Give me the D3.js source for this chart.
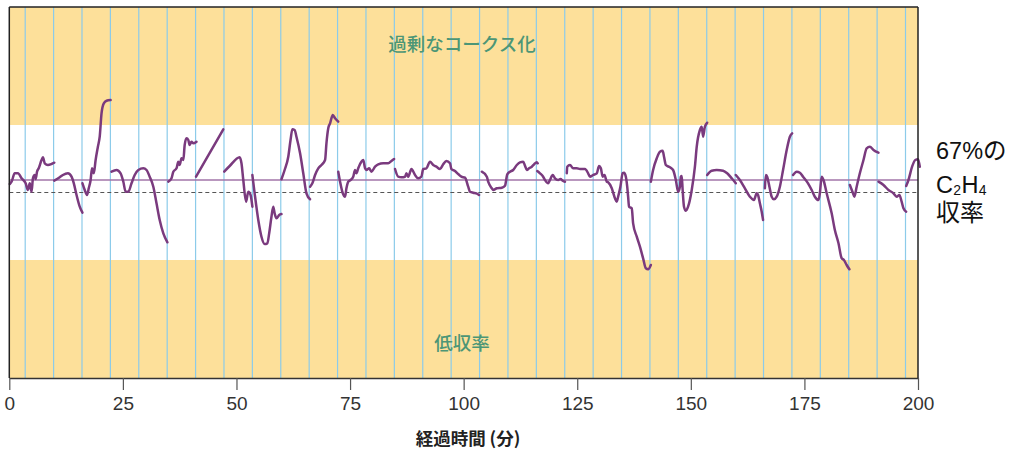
<!DOCTYPE html>
<html><head><meta charset="utf-8">
<script src="https://cdn.jsdelivr.net/npm/d3@7"></script>
<style>body{margin:0;background:#fff} svg{display:block}</style>
</head><body>
<svg id="c" width="1016" height="451"></svg>
<script>
// ---- data ----
const xTicks = [0, 25, 50, 75, 100, 125, 150, 175, 200];
const gridMinutes = [3.5, 9.75, 16, 22.25, 28.5, 34.75, 41, 47.25, 53.5, 59.75, 66, 72.25, 78.5, 84.75,
  91, 97.25, 103.5, 109.75, 116, 122.25, 128.5, 134.75, 141, 147.25, 153.5, 159.75, 166, 172.25,
  178.5, 184.75, 191, 197.25];
const targetYield = 67;
const dashedYield = 65.75;
const bandHigh = [72.5, 84.3];
const bandLow = [47.2, 59];
const bandLabels = ["過剰なコークス化", "低収率"];
const sideLabel = ["67%の", "C", "2", "H", "4", "収率"];
const xTitle = "経過時間 (分)";

const traceSegments = [
  [[0.1,66.6],[0.5,66.83],[1.2,67.67],[1.9,67.67],[2.7,67.17],[3.6,66.67],[4.1,66.0],[4.5,66.67],[4.9,65.83],[5.2,67.17],[5.6,67.5],[5.8,67.1],[6.1,67.83],[6.5,68.2],[7.1,69.0],[7.4,69.27],[7.8,68.67],[8.5,68.5],[9.3,68.6],[9.9,68.73]],
  [[9.9,66.93],[11.1,67.27],[11.8,67.5],[12.9,67.67],[13.7,67.33],[14.2,66.67],[14.8,65.5],[15.5,64.33],[16.1,63.73]],
  [[16.1,66.67],[16.6,66.0],[17.1,65.5],[17.5,66.2],[17.9,67.0],[18.2,68.17],[18.6,67.67],[19.0,69.0],[19.5,70.33],[19.9,71.33],[20.3,73.67],[20.8,74.67],[21.4,74.93],[22.3,75.0]],
  [[22.5,67.83],[23.6,68.0],[24.5,67.67],[25.1,66.83],[25.6,65.83],[26.2,65.83],[26.9,66.67],[27.6,67.5],[28.4,68.0],[29.5,68.17],[30.2,68.0],[30.9,67.33],[31.7,66.33],[32.4,64.67],[33.1,63.0],[33.9,61.67],[34.8,60.77]],
  [[35.0,66.83],[35.7,67.17],[36.1,67.83],[36.8,68.17],[37.2,68.83],[37.5,68.5],[37.9,69.17],[38.3,69.0],[38.6,70.5],[39.0,71.17],[39.4,71.0],[39.7,70.5],[40.1,70.83],[40.5,70.67],[41.2,70.83]],
  [[41.1,67.33],[47.1,72.07]],
  [[47.3,67.83],[48.5,68.4],[50.7,69.27],[51.1,68.67],[51.5,67.0],[52.1,64.83],[52.6,65.83],[53.1,65.5],[53.5,64.33]],
  [[53.5,67.5],[54.0,65.67],[54.8,63.0],[55.5,61.33],[56.2,60.6],[56.8,60.67],[57.2,61.67],[57.7,63.33],[58.1,64.33],[58.4,63.67],[58.8,63.17],[59.4,63.5],[59.9,63.6]],
  [[59.9,67.07],[60.6,68.0],[61.4,69.33],[61.9,71.0],[62.3,72.07],[62.8,72.0],[63.2,71.33],[64.0,69.67],[64.7,67.67],[65.4,65.67],[66.2,65.07]],
  [[66.2,66.33],[66.7,66.67],[67.3,67.5],[68.0,68.17],[68.7,68.5],[69.5,69.0],[69.8,70.67],[70.2,72.17],[70.6,72.67],[71.2,73.5],[71.7,73.17],[72.4,72.83]],
  [[72.4,67.83],[72.8,66.83],[73.4,65.67],[73.9,65.33],[74.2,66.17],[74.6,66.83],[75.1,67.0],[75.7,67.33],[76.1,68.0],[76.4,67.67],[76.8,68.17],[77.5,68.83],[77.9,69.0],[78.3,68.17],[78.6,68.0],[79.2,68.17],[79.7,67.83],[80.5,68.33],[81.2,68.57],[82.3,68.67],[83.4,68.67],[84.1,68.9],[84.7,69.1]],
  [[84.9,68.1],[85.6,67.33],[86.3,67.27],[87.1,67.33],[87.4,67.67],[87.8,67.33],[88.5,68.1],[89.3,67.5],[90.0,67.17],[90.7,67.33],[91.1,68.1],[91.8,68.17],[92.6,68.83],[93.3,68.5],[94.0,68.33],[94.8,68.1],[95.5,68.57],[96.2,68.9],[97.0,68.67],[97.3,68.1],[98.1,67.9],[98.8,67.6],[99.5,67.33],[100.3,67.23],[101.0,66.33],[101.4,65.83],[102.1,65.73],[102.8,65.67],[103.4,65.5]],
  [[104.0,67.83],[105.1,67.33],[105.4,66.83],[106.2,66.17],[106.5,66.0],[107.3,66.17],[108.4,66.23],[109.1,66.43],[109.6,67.57],[110.2,67.83],[110.9,68.0],[111.7,68.5],[112.4,68.77],[113.1,68.83],[113.5,68.43],[113.9,68.0],[114.4,68.17],[115.0,68.33],[115.5,68.57],[116.1,68.77],[116.3,68.67]],
  [[116.2,67.9],[116.8,67.67],[117.5,67.33],[117.9,67.0],[118.6,66.67],[119.0,67.0],[119.6,67.5],[120.1,67.17],[120.8,67.0],[121.3,67.1],[121.9,66.9],[122.3,66.83]],
  [[122.7,67.67],[122.8,68.33],[123.4,68.5],[124.1,68.17],[124.9,68.17],[125.6,68.1],[126.7,68.1],[127.4,67.67],[127.8,67.33],[128.5,67.5],[129.3,67.67],[129.8,68.4],[130.2,68.17],[130.6,67.33],[131.0,67.5],[131.5,66.83],[131.8,66.77],[132.6,66.17],[133.3,65.17],[133.7,64.83],[134.0,65.33],[134.5,66.33],[135.0,67.67],[135.3,67.73],[135.7,67.33],[136.0,66.33],[136.2,65.33],[136.4,64.33],[137.0,64.17],[137.3,62.67],[138.1,61.33],[138.8,60.33],[139.5,59.17],[140.1,58.17],[140.6,58.07],[141.2,58.5]],
  [[141.2,66.83],[141.7,68.0],[142.5,69.17],[143.2,69.83],[143.8,69.93],[144.1,69.33],[144.5,68.5],[145.4,68.27],[146.1,68.0],[146.7,67.0],[147.2,65.83],[147.6,66.33],[147.8,67.33],[148.0,67.4],[148.2,66.0],[148.5,64.33],[148.9,63.93],[149.4,64.33],[150.2,66.0],[150.9,68.33],[151.3,70.33],[152.0,72.0],[152.4,72.33],[152.7,71.33],[153.1,72.33],[153.6,72.73]],
  [[153.6,67.5],[154.6,67.93],[155.7,68.0],[157.1,67.93],[158.0,67.67],[159.0,67.17],[159.9,66.67]],
  [[159.9,67.5],[160.8,67.0],[161.9,66.17],[163.0,65.33],[163.9,65.0],[164.5,65.67],[164.8,65.5],[165.2,64.67],[165.6,63.83],[165.9,63.0]],
  [[166.3,66.17],[166.5,67.5],[166.8,67.33],[167.3,66.33],[167.8,65.33],[168.3,65.07],[168.9,65.33],[169.6,66.33],[170.3,68.0],[171.1,70.0],[171.8,71.33],[172.3,71.67]],
  [[172.5,67.5],[173.3,67.83],[174.0,67.73],[174.7,67.33],[175.8,66.67],[176.6,66.0],[177.3,65.33],[178.1,65.0],[178.4,65.67],[178.8,67.33],[179.2,67.0],[179.9,65.67],[181.0,63.67],[181.7,62.0],[182.5,60.67],[183.2,59.17],[183.7,59.0],[184.3,58.5],[184.9,58.07]],
  [[185.0,66.5],[185.7,65.67],[186.0,65.33],[186.5,66.33],[187.2,67.67],[188.0,69.0],[188.7,70.17],[189.4,70.33],[190.2,70.0],[191.3,69.73]],
  [[191.3,66.83],[192.4,66.5],[193.5,66.0],[194.6,65.67],[195.3,65.33],[195.9,65.5],[196.4,64.83],[196.8,64.17],[197.4,63.83]],
  [[197.4,66.4],[197.9,67.0],[198.7,68.33],[199.4,69.0],[200.0,69.07],[200.4,68.33]]
];

// ---- chart ----
const svg = d3.select("#c");
const x = d3.scaleLinear().domain([0, 200]).range([9.3, 918]);
const y = d3.scaleLinear().domain([47.2, 84.3]).range([378, 7]);
const [y0, y1] = y.domain();

const bands = [bandHigh, bandLow];
svg.append("g").selectAll("rect").data(bands).join("rect")
  .attr("x", x(0)).attr("width", x(200) - x(0))
  .attr("y", d => y(d[1])).attr("height", d => y(d[0]) - y(d[1]))
  .attr("fill", "#fde09a");

svg.append("g").selectAll("line").data(gridMinutes).join("line")
  .attr("x1", d => x(d)).attr("x2", d => x(d))
  .attr("y1", y(y1)).attr("y2", y(y0))
  .attr("stroke", "#8ccbea").attr("stroke-width", 1.2);

svg.append("line")
  .attr("x1", x(0)).attr("x2", x(200)).attr("y1", y(targetYield)).attr("y2", y(targetYield))
  .attr("stroke", "#a274a8").attr("stroke-width", 1.6);
svg.append("line")
  .attr("x1", x(0)).attr("x2", x(200)).attr("y1", y(dashedYield)).attr("y2", y(dashedYield))
  .attr("stroke", "#555").attr("stroke-width", 1.1).attr("stroke-dasharray", "4,3");

const line = d3.line().x(d => x(d[0])).y(d => y(d[1])).curve(d3.curveMonotoneX);
svg.append("g").selectAll("path").data(traceSegments).join("path")
  .attr("d", line).attr("fill", "none")
  .attr("stroke", "#7a3a7e").attr("stroke-width", 2.5)
  .attr("stroke-linejoin", "round").attr("stroke-linecap", "round");

// frame
svg.append("line").attr("x1", x(0)).attr("x2", x(200)).attr("y1", y(y1)).attr("y2", y(y1))
  .attr("stroke", "#222").attr("stroke-width", 1.5);
svg.append("line").attr("x1", x(0)).attr("x2", x(0)).attr("y1", y(y1)).attr("y2", y(y0))
  .attr("stroke", "#222").attr("stroke-width", 1.5);
svg.append("line").attr("x1", x(200)).attr("x2", x(200)).attr("y1", y(y1)).attr("y2", y(y0))
  .attr("stroke", "#222").attr("stroke-width", 1.5);

// axis
const ax = svg.append("g").attr("transform", `translate(0,${y(y0)})`)
  .call(d3.axisBottom(x).tickValues(xTicks).tickSize(12).tickPadding(7).tickSizeOuter(0));
ax.select(".domain").attr("stroke", "#333").attr("stroke-width", 1.5);
ax.selectAll(".tick line").attr("stroke", "#555").attr("stroke-width", 1.2);
ax.selectAll(".tick text").attr("fill", "#333")
  .style("font-family", "'Liberation Sans', Arial, sans-serif").style("font-size", "19px");

svg.append("text").attr("x", 468).attr("y", 445).attr("text-anchor", "middle")
  .style("font-family", "'Noto Sans CJK JP', sans-serif").style("font-size", "17.5px")
  .style("font-weight", "bold").attr("fill", "#222").text(xTitle);

// band labels
const labelFont = "'Noto Sans CJK JP', sans-serif";
svg.append("text").attr("x", 462).attr("y", 51).attr("text-anchor", "middle")
  .style("font-family", labelFont).style("font-size", "18.5px").style("font-weight", 500)
  .attr("fill", "#4c9676").text(bandLabels[0]);
svg.append("text").attr("x", 462).attr("y", 350).attr("text-anchor", "middle")
  .style("font-family", labelFont).style("font-size", "18.5px").style("font-weight", 500)
  .attr("fill", "#4c9676").text(bandLabels[1]);

// side label
const sideFont = "'Liberation Sans', 'Noto Sans CJK JP', sans-serif";
svg.append("text").attr("x", 936).attr("y", 158.5)
  .style("font-family", sideFont).style("font-size", "23.5px").attr("fill", "#111").text(sideLabel[0]);
// C2H4 written piece by piece, each piece placed after the previous one's measured width
const formulaParts = [
  {t: sideLabel[1], size: 23.5, dy: 0},
  {t: sideLabel[2], size: 14, dy: 2},
  {t: sideLabel[3], size: 23.5, dy: 0},
  {t: sideLabel[4], size: 14, dy: 2}
];
let fx = 936;
formulaParts.forEach(p => {
  const t = svg.append("text").attr("x", fx).attr("y", 192.5 + p.dy)
    .style("font-family", sideFont).style("font-size", p.size + "px").attr("fill", "#111").text(p.t);
  fx += t.node().getComputedTextLength() + 0.3;
});
svg.append("text").attr("x", 936).attr("y", 220.5)
  .style("font-family", "'Noto Sans CJK JP', sans-serif").style("font-size", "24px").attr("fill", "#111").text(sideLabel[5]);
</script>
</body></html>
